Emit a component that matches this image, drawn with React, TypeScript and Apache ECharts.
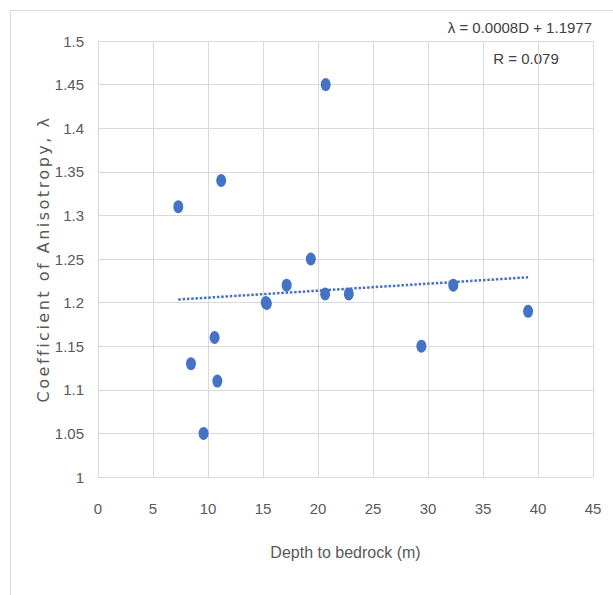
import React, { useEffect, useRef } from "react";
import * as echarts from "echarts";

const depth = [7.3, 11.2, 15.25, 15.35, 17.15, 19.35, 20.65, 20.7, 22.8, 32.3, 39.1, 10.6, 8.45, 10.85, 9.6, 29.4];
const lambda = [1.31, 1.34, 1.2, 1.199, 1.22, 1.25, 1.21, 1.45, 1.21, 1.22, 1.19, 1.16, 1.13, 1.11, 1.05, 1.15];
const trendX = [7.3, 39.1];
const trendY = [1.2035, 1.229];
const xTicks = [0, 5, 10, 15, 20, 25, 30, 35, 40, 45];
const yTicks = [1, 1.05, 1.1, 1.15, 1.2, 1.25, 1.3, 1.35, 1.4, 1.45, 1.5];
const equation = "λ = 0.0008D + 1.1977";
const rText = "R = 0.079";
const xTitle = "Depth to bedrock (m)";
const yTitle = "Coefficient of Anisotropy, λ";

const narrow = "'Liberation Sans Narrow', 'Arial Narrow', 'Liberation Sans', sans-serif";
const wide = "'DejaVu Sans', Verdana, sans-serif";
const ellipse = "path://M0,5a5,5 0 1,0 10,0a5,5 0 1,0 -10,0z";

export default function App() {
  const ref = useRef<HTMLDivElement>(null);
  useEffect(() => {
    if (!ref.current) return;
    const styleEl = document.createElement("style");
    styleEl.textContent = 'svg text[style*="Verdana"] { letter-spacing: 2.5px; }';
    document.head.appendChild(styleEl);
    const chart = echarts.init(ref.current, undefined, { renderer: "svg" });
    chart.setOption({
      animation: false,
      backgroundColor: "transparent",
      grid: { left: 98, right: 20, top: 41, bottom: 118 },
      xAxis: {
        type: "value",
        min: xTicks[0],
        max: xTicks[xTicks.length - 1],
        interval: 5,
        name: xTitle,
        nameLocation: "middle",
        nameGap: 67,
        nameMoveOverlap: false,
        nameTextStyle: { color: "#595959", fontSize: 16, fontFamily: narrow },
        axisLine: { show: true, lineStyle: { color: "#d9d9d9" } },
        axisTick: { show: false },
        splitLine: { show: true, lineStyle: { color: "#d9d9d9", width: 1 } },
        axisLabel: { color: "#595959", fontSize: 15, fontFamily: narrow, margin: 24 },
      },
      yAxis: {
        type: "value",
        min: yTicks[0],
        max: yTicks[yTicks.length - 1],
        interval: 0.05,
        name: yTitle,
        nameLocation: "middle",
        nameGap: 47,
        nameMoveOverlap: false,
        nameTextStyle: { color: "#595959", fontSize: 16, fontFamily: wide },
        axisLine: { show: true, lineStyle: { color: "#d9d9d9" } },
        axisTick: { show: false },
        splitLine: { show: true, lineStyle: { color: "#d9d9d9", width: 1 } },
        axisLabel: {
          color: "#595959",
          fontSize: 15,
          fontFamily: narrow,
          margin: 14,
          formatter: (v: number) => String(Math.round(v * 100) / 100),
        },
      },
      graphic: [
        {
          type: "text",
          right: 21,
          top: 20,
          style: { text: equation, fill: "#404040", fontSize: 15, fontFamily: narrow },
        },
        {
          type: "text",
          x: 526,
          y: 58,
          style: { text: rText, fill: "#404040", fontSize: 15, fontFamily: narrow, align: "center", verticalAlign: "middle" },
        },
      ],
      series: [
        {
          type: "line",
          data: trendX.map((x, i) => [x, trendY[i]]),
          showSymbol: false,
          symbol: "none",
          lineStyle: { color: "#4472C4", width: 2.5, type: [2.5, 1.8] },
          z: 2,
        },
        {
          type: "scatter",
          data: depth.map((d, i) => [d, lambda[i]]),
          symbol: ellipse,
          symbolSize: [10, 13],
          itemStyle: { color: "#4472C4", opacity: 1 },
          z: 3,
        },
      ],
    });
    return () => {
      chart.dispose();
      styleEl.remove();
    };
  }, []);
  return (
    <>
      <div
        style={{
          position: "fixed",
          left: 10,
          top: 10,
          width: 640,
          height: 640,
          border: "1px solid #d9d9d9",
          background: "#fff",
        }}
      />
      <div ref={ref} style={{ position: "fixed", left: 0, top: 0, width: 613, height: 595 }} />
    </>
  );
}
